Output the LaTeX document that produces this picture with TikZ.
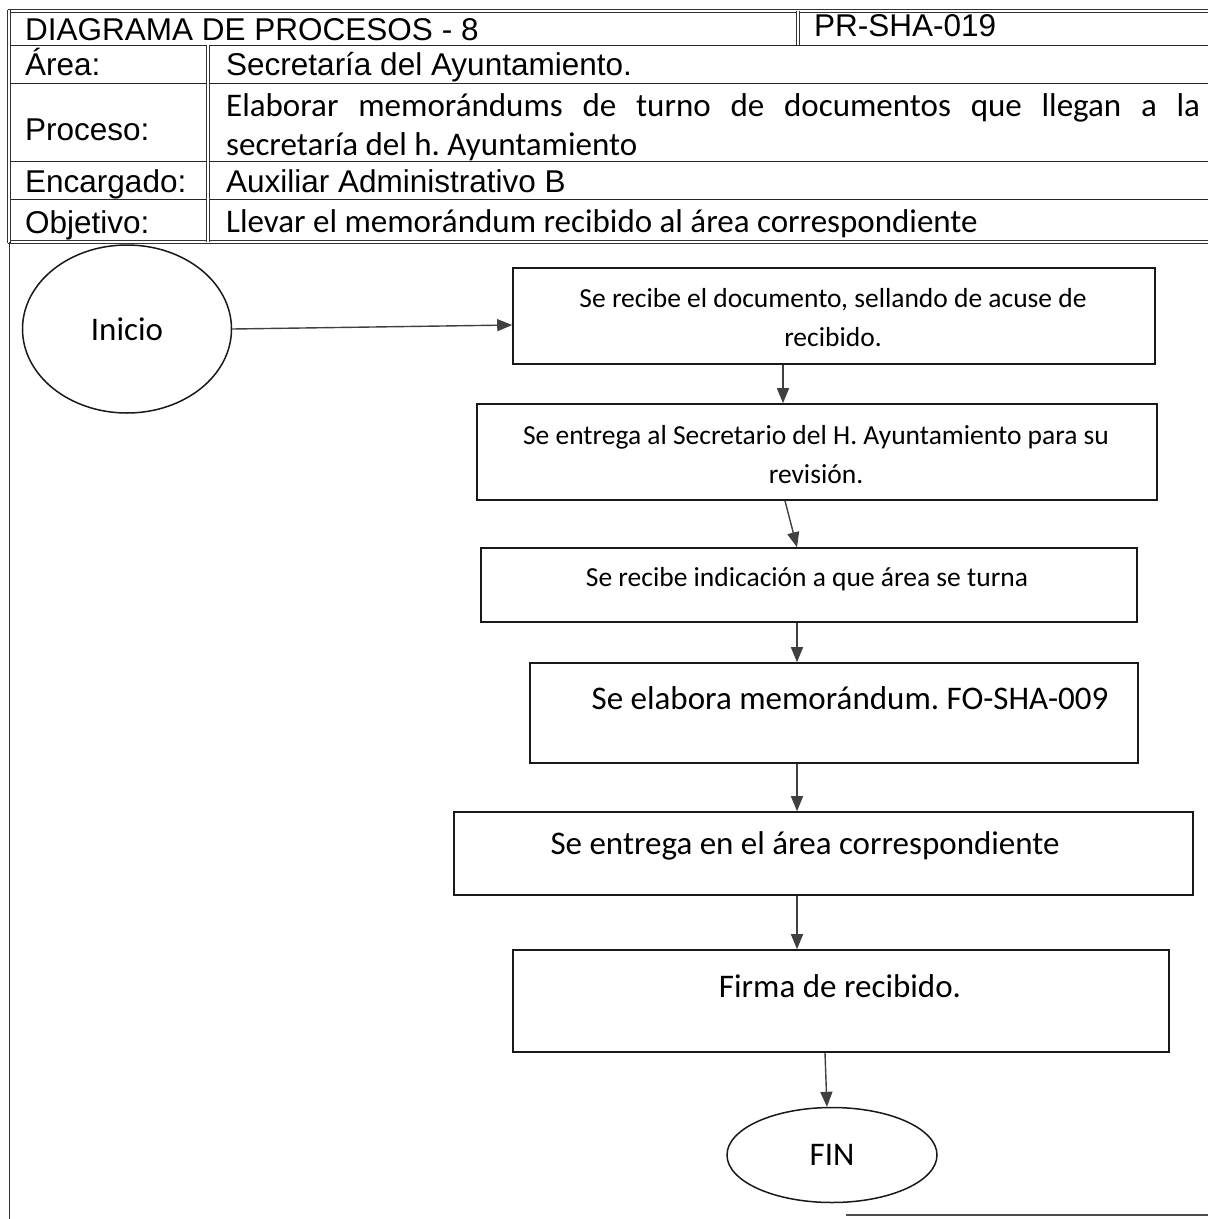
\documentclass[tikz,border=0pt]{standalone}
\usepackage{fontspec}
\setmainfont{Carlito}
\newfontfamily\arialfont{Liberation Sans}
\usetikzlibrary{arrows.meta,shapes.geometric}
\frenchspacing

\begin{document}
\begin{tikzpicture}[x=1pt,y=-1pt,
  rule/.style={line width=1pt, draw=black!85},
  dbl/.style={draw=black!80, double=white, double distance=1.8pt, line width=0.8pt},
  hdr/.style={anchor=base west, inner sep=0pt, font=\arialfont\fontsize{31.5}{36}\selectfont},
  val/.style={anchor=base west, inner sep=0pt, font=\fontsize{33}{38}\selectfont},
  stepbox/.style={draw=black!90, line width=1.6pt, rectangle, inner sep=0pt},
  oval/.style={draw=black!90, line width=1.5pt, ellipse, inner sep=0pt, font=\fontsize{33}{39}\selectfont},
  small/.style={font=\fontsize{27.5}{39}\selectfont, align=center, inner sep=0pt},
  big/.style={font=\fontsize{33}{39}\selectfont, align=center, inner sep=0pt},
  flow/.style={line width=1.4pt, draw=black!80, -{Triangle[length=15pt,width=12pt]}, color=black!75},
]
\fill[white] (0,0) rectangle (1208,1219);
\useasboundingbox (0,0) rectangle (1208,1219);

% header table
\draw[rule] (9,45) -- (1208,45);
\draw[rule] (9,83) -- (1208,83);
\draw[rule] (9,161) -- (1208,161);
\draw[rule] (9,199) -- (1208,199);
\draw[dbl] (8,11) -- (1208,11);
\draw[dbl] (8,242) -- (1208,242);
\draw[dbl] (9,10) -- (9,243);
\draw[dbl] (208,45) -- (208,242);
\draw[dbl] (798,11) -- (798,45);

\node[hdr] (title) at (25,40) {DIAGRAMA DE PROCESOS - 8};
\node[hdr] (code) at (814,36) {PR-SHA-019};
\node[hdr] (larea) at (25,75) {Área:};
\node[hdr] (lproc) at (25,140) {Proceso:};
\node[hdr] (lenc) at (25,192) {Encargado:};
\node[hdr] (lobj) at (25,233) {Objetivo:};
\node[hdr] (varea) at (226,75) {Secretaría del Ayuntamiento.};
\node[val] (vproca) at (226,116) {\makebox[974pt][s]{Elaborar memorándums de turno de documentos que llegan a la}};
\node[val] (vprocb) at (226,155) {secretaría del h. Ayuntamiento};
\node[hdr] (venc) at (226,192) {Auxiliar Administrativo B};
\node[val] (vobj) at (226,232) {Llevar el memorándum recibido al área correspondiente};

% frame of the flow area
\draw[line width=1pt, draw=black!80] (9,242) -- (9,1219);
\draw[line width=1.2pt, draw=black!70] (846,1215) -- (1208,1215);

% flow steps
\node[oval, minimum width=209pt, minimum height=168pt] (ini) at (127,329) {Inicio};
\node[stepbox, minimum width=642pt, minimum height=96pt] (b1) at (834,316) {};
\node[stepbox, minimum width=680pt, minimum height=96pt] (b2) at (817,452) {};
\node[stepbox, minimum width=656pt, minimum height=74pt] (b3) at (809,585) {};
\node[stepbox, minimum width=608pt, minimum height=100pt] (b4) at (834,713) {};
\node[stepbox, minimum width=739pt, minimum height=83pt] (b5) at (823.5,853.5) {};
\node[stepbox, minimum width=656pt, minimum height=102pt] (b6) at (841,1001) {};
\node[oval, minimum width=210pt, minimum height=95pt] (fin) at (832,1155) {FIN};

\node[small] (t1) at (833,318) {Se recibe el documento, sellando de acuse de\\recibido.};
\node[small] (t2) at (816,455) {Se entrega al Secretario del H. Ayuntamiento para su\\revisión.};
\node[small] (t3) at (807,579) {Se recibe indicación a que área se turna};
\node[big] (t4) at (850,698) {Se elabora memorándum. FO-SHA-009};
\node[big] (t5) at (805,846) {Se entrega en el área correspondiente};
\node[big] (t6) at (840,986) {Firma de recibido.};

% connectors
\draw[flow] (ini.east) -- ([yshift=-9pt]b1.west);
\draw[flow] ([xshift=-51pt]b1.south) -- ([xshift=-34pt]b2.north);
\draw[flow] ([xshift=-32pt]b2.south) -- ([xshift=-12pt]b3.north);
\draw[flow] ([xshift=-12pt]b3.south) -- ([xshift=-37pt]b4.north);
\draw[flow] ([xshift=-37pt]b4.south) -- ([xshift=-26.5pt]b5.north);
\draw[flow] ([xshift=-26.5pt]b5.south) -- ([xshift=-44pt]b6.north);
\draw[flow] ([xshift=-16pt]b6.south) -- (fin.96);
\end{tikzpicture}
\end{document}
